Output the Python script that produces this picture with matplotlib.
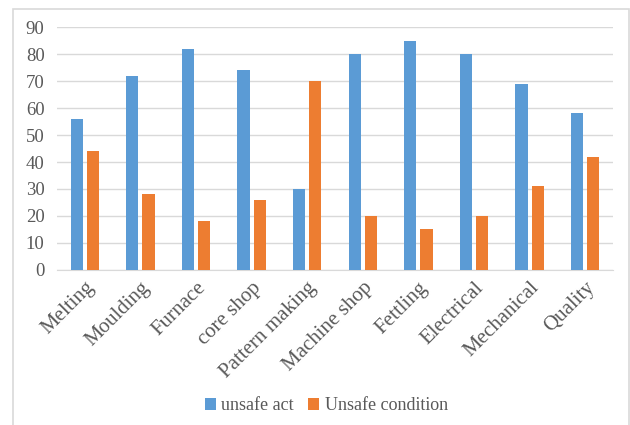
import numpy as np
import matplotlib
matplotlib.use("Agg")
from matplotlib import pyplot as plt
from matplotlib.patches import Rectangle

categories = ['Melting', 'Moulding', 'Furnace', 'core shop', 'Pattern making',
              'Machine shop', 'Fettling', 'Electrical', 'Mechanical', 'Quality']
unsafe_act = [56, 72, 82, 74, 30, 80, 85, 80, 69, 58]
unsafe_condition = [44, 28, 18, 26, 70, 20, 15, 20, 31, 42]

plt.rcParams['font.family'] = ['Liberation Serif', 'DejaVu Serif']

fig = plt.figure(figsize=(6.3, 4.25), dpi=100)
ax = fig.add_axes([0.0905, 0.365, 0.8825, 0.571])

# light frame round the chart area, as in the Excel export
fig.patches.append(Rectangle((13 / 630, -0.05), 616 / 630, 1 - 9 / 425 + 0.05,
                             transform=fig.transFigure, fill=False,
                             edgecolor='#d9d9d9', linewidth=1.2))

x = np.arange(len(categories))
w = 0.22
gap = 0.07
ax.bar(x - (w + gap) / 2, unsafe_act, w, color='#5b9bd5', label='unsafe act', zorder=3)
ax.bar(x + (w + gap) / 2, unsafe_condition, w, color='#ed7d31', label='Unsafe condition', zorder=3)

ax.set_xlim(-0.5, len(categories) - 0.5)
ax.set_ylim(0, 90)
ax.set_yticks(range(0, 91, 10))
ax.grid(axis='y', color='#d9d9d9', linewidth=1, zorder=0)
for side in ['top', 'right', 'left']:
    ax.spines[side].set_visible(False)
ax.spines['bottom'].set_color('#d9d9d9')
ax.tick_params(axis='both', length=0, labelsize=13.5, colors='#595959')
ax.tick_params(axis='y', pad=9)
ax.tick_params(axis='x', pad=6)
ax.set_xticks(x)
ax.set_xticklabels(categories, rotation=45, ha='right', rotation_mode='anchor', fontsize=15)

fig.legend(loc='center', bbox_to_anchor=(0.518, 0.045), ncol=2, frameon=False,
           fontsize=13, handlelength=0.6, handleheight=0.6, handletextpad=0.3,
           columnspacing=0.8, labelcolor='#595959')

fig.savefig('out.png', dpi=100)
